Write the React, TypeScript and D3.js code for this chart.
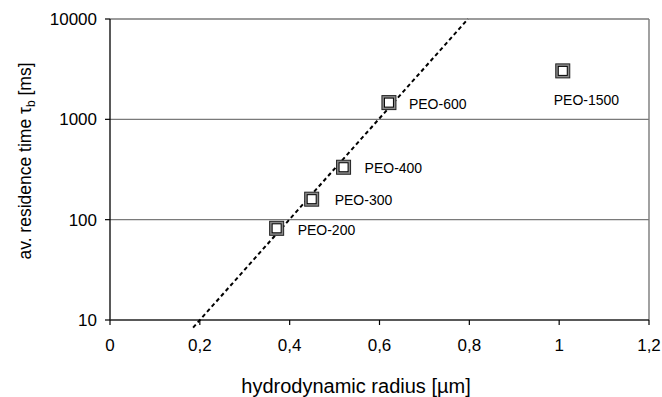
import React from "react";
import * as d3 from "d3";

const samples = ["PEO-200", "PEO-300", "PEO-400", "PEO-600", "PEO-1500"];
const radius = [0.371, 0.449, 0.52, 0.621, 1.008];
const residence = [82, 160, 333, 1468, 3040];
const fitRadius = [0.185, 0.797];
const fitResidence = [8.4, 10000];
const xTicks = [0, 0.2, 0.4, 0.6, 0.8, 1, 1.2];
const yTicks = [10, 100, 1000, 10000];

// label layout (dx, dy) relative to marker center
const labelLayout: [number, number][] = [
  [21, 7],
  [23, 6],
  [21, 5.5],
  [20, 6.5],
  [-9, 34],
];

const W = 662;
const H = 397;

export default function App() {
  const x = d3.scaleLinear().domain([0, 1.2]).range([110, 649]);
  const y = d3.scaleLog().domain([10, 10000]).range([320, 19]);
  const fmt = (v: number) => String(v).replace(".", ",");
  const fitLine = d3
    .line<number>()
    .x((d) => x(fitRadius[d]))
    .y((d) => y(fitResidence[d]))([0, 1]);
  const font = "Liberation Sans, Arial, sans-serif";
  const [x0, x1] = x.range();
  const [yb, yt] = y.range();
  return (
    <svg
      width={W}
      height={H}
      style={{ position: "absolute", left: 0, top: 0, background: "#fff" }}
      fontFamily={font}
    >
      <rect width={W} height={H} fill="#fff" />
      {/* gridlines */}
      {yTicks.filter((t) => t !== 10).map((t) => (
        <line key={t} x1={x0} x2={x1} y1={y(t)} y2={y(t)} stroke="#7a7a7a" strokeWidth={1.4} />
      ))}
      <line x1={x1} x2={x1} y1={yt} y2={yb} stroke="#7a7a7a" strokeWidth={1.4} />
      {/* axes */}
      <line x1={x0} x2={x0} y1={yt} y2={yb} stroke="#000" strokeWidth={1.3} />
      <line x1={x0} x2={x1} y1={yb} y2={yb} stroke="#222" strokeWidth={1.4} />
      {yTicks.map((t) => (
        <g key={t}>
          <line x1={x0 - 5} x2={x0} y1={y(t)} y2={y(t)} stroke="#000" strokeWidth={1.2} />
          <text x={97} y={y(t) + 6} textAnchor="end" fontSize={17} fill="#000">
            {t}
          </text>
        </g>
      ))}
      {xTicks.map((t) => (
        <g key={t}>
          <line x1={x(t)} x2={x(t)} y1={yb} y2={yb + 5} stroke="#000" strokeWidth={1.2} />
          <text x={x(t)} y={351} textAnchor="middle" fontSize={17} fill="#000">
            {fmt(t)}
          </text>
        </g>
      ))}
      {/* fit line */}
      <path d={fitLine ?? ""} fill="none" stroke="#000" strokeWidth={2} strokeDasharray="4,3" />
      {/* markers */}
      {samples.map((s, i) => {
        const cx = x(radius[i]);
        const cy = y(residence[i]);
        return (
          <g key={s}>
            <rect x={cx - 7} y={cy - 7} width={14} height={14} fill="#8a8a8a" stroke="#222" strokeWidth={1} />
            <rect x={cx - 4.5} y={cy - 4.5} width={9} height={9} fill="#fff" stroke="#000" strokeWidth={1} />
            <text x={cx + labelLayout[i][0]} y={cy + labelLayout[i][1]} fontSize={14} fill="#000">
              {s}
            </text>
          </g>
        );
      })}
      {/* axis titles */}
      <text x={356} y={393} textAnchor="middle" fontSize={20} fill="#000">
        hydrodynamic radius [µm]
      </text>
      <text transform="translate(31,161) rotate(-90)" textAnchor="middle" fontSize={17.5} fill="#000">
        av. residence time τ<tspan fontSize={12} dy={4}>b</tspan>
        <tspan dy={-4}> [ms]</tspan>
      </text>
    </svg>
  );
}
